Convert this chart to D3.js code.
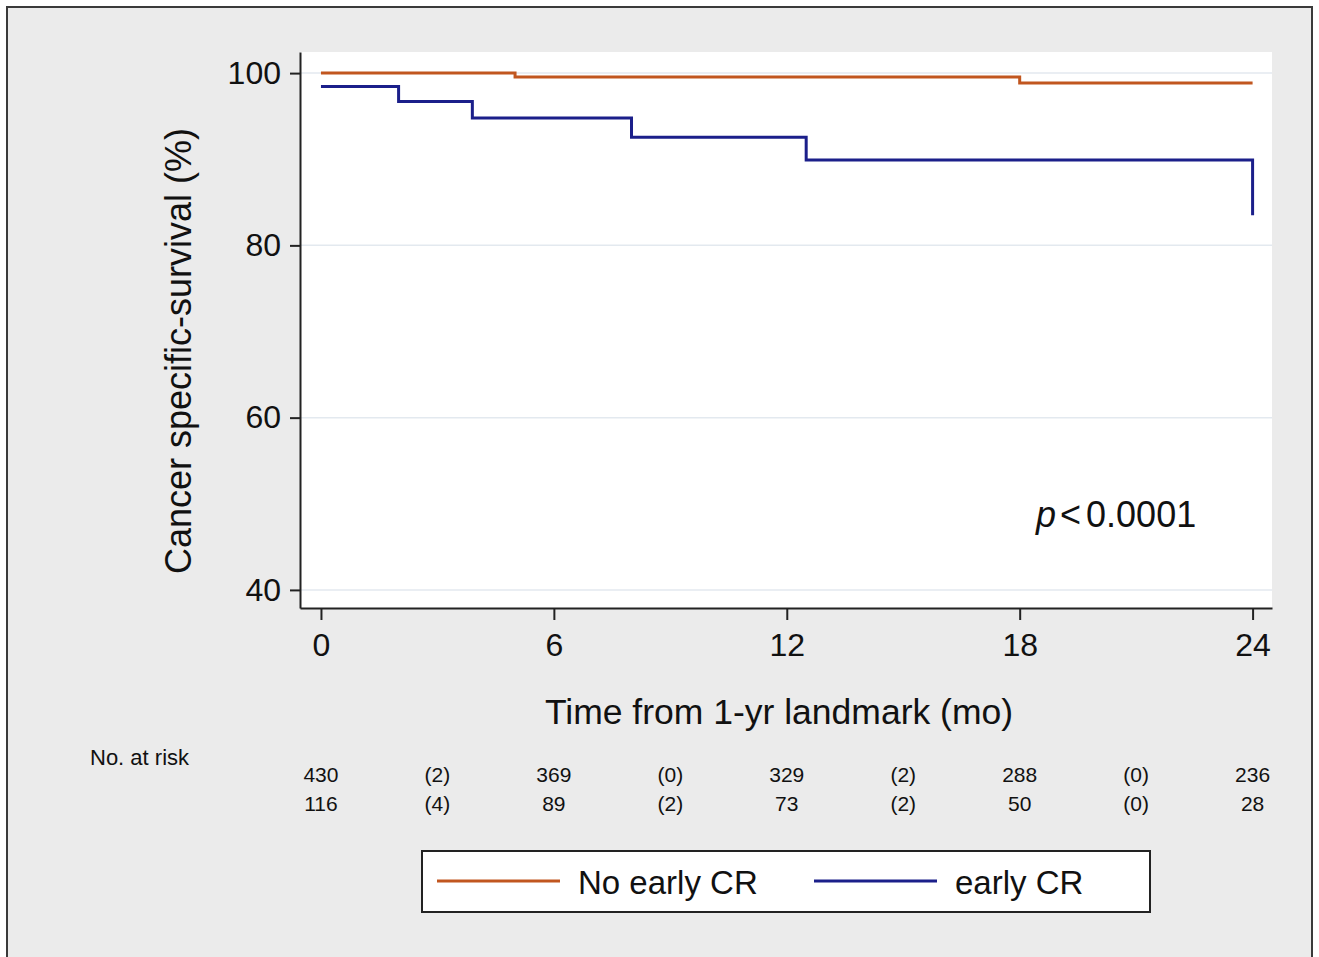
<!DOCTYPE html>
<html>
<head>
<meta charset="utf-8">
<script src="https://cdn.jsdelivr.net/npm/d3@7"></script>
<style>
  body { margin: 0; background: #fff; }
  svg { display: block; font-family: "Liberation Sans", Arial, Helvetica, sans-serif; }
</style>
</head>
<body>
<div id="chart"></div>
<script>
// survival curves (months, percent)
const noEarlyTimes = [0, 5, 18, 24];
const noEarlySurv  = [100, 99.55, 98.85, 98.85];
const earlyTimes   = [0, 2, 3.9, 8, 12.5, 24, 24];
const earlySurv    = [98.45, 96.7, 94.8, 92.55, 89.9, 89.9, 83.5];

const yTicks = [40, 60, 80, 100];
const xTicks = [0, 6, 12, 18, 24];

// number at risk table
const riskMonths  = [0, 3, 6, 9, 12, 15, 18, 21, 24];
const riskNoEarly = ["430", "(2)", "369", "(0)", "329", "(2)", "288", "(0)", "236"];
const riskEarly   = ["116", "(4)", "89", "(2)", "73", "(2)", "50", "(0)", "28"];

const seriesNames  = ["No early CR", "early CR"];
const seriesColors = ["#c1561f", "#1b1f8a"];

function drawChart(){
    var width = 1319, height = 957;
    var svg = d3.select("#chart").append("svg").attr("width", width).attr("height", height);

    // outer frame
    svg.append("rect").attr("x", 7).attr("y", 7).attr("width", 1305).attr("height", 960)
        .attr("fill", "#ebebeb").attr("stroke", "#3a3a3a").attr("stroke-width", 2);

    var left = 300, right = 1272, top = 52, bottom = 608;
    svg.append("rect").attr("x", left).attr("y", top).attr("width", right - left).attr("height", bottom - top)
        .attr("fill", "#fff");

    var x = d3.scaleLinear().domain([-0.54, 24.5]).range([left, right]);
    var y = d3.scaleLinear().domain([37.9, 102.45]).range([bottom, top]);

//gridlines
    svg.append("g").selectAll("line").data(yTicks).enter().append("line")
        .attr("x1", left).attr("x2", right)
        .attr("y1", d => y(d)).attr("y2", d => y(d))
        .attr("stroke", "#e3e9ef").attr("stroke-width", 1.5);

//axes
    var yAxis = svg.append("g").attr("transform", "translate(" + left + ",0)")
        .call(d3.axisLeft(y).tickValues(yTicks).tickSize(10).tickSizeOuter(0).tickPadding(9));
    var xAxis = svg.append("g").attr("transform", "translate(0," + bottom + ")")
        .call(d3.axisBottom(x).tickValues(xTicks).tickSize(12).tickSizeOuter(0).tickPadding(13));
    [yAxis, xAxis].forEach(function(a){
        a.selectAll("path, line").attr("stroke", "#222").attr("stroke-width", 2);
        a.selectAll("text").attr("fill", "#111").style("font-size", "32px")
            .style("font-family", "'Liberation Sans', Arial, sans-serif");
    });

    svg.append("text").attr("transform", "translate(191,351) rotate(-90)")
        .attr("text-anchor", "middle").attr("fill", "#111").style("font-size", "36px")
        .text("Cancer specific-survival (%)");
    svg.append("text").attr("x", 779).attr("y", 724)
        .attr("text-anchor", "middle").attr("fill", "#111").style("font-size", "35.5px")
        .text("Time from 1-yr landmark (mo)");

//curves
    var line = d3.line().x(d => x(d[0])).y(d => y(d[1])).curve(d3.curveStepAfter);
    var curves = [
        d3.zip(noEarlyTimes, noEarlySurv),
        d3.zip(earlyTimes, earlySurv)
    ];
    svg.append("g").selectAll("path").data(curves).enter().append("path")
        .attr("d", line).attr("fill", "none")
        .attr("stroke", (d, i) => seriesColors[i]).attr("stroke-width", 3);

//p value
    var p = svg.append("text").attr("x", 1036).attr("y", 527).attr("fill", "#111").style("font-size", "36px");
    p.append("tspan").style("font-style", "italic").text("p");
    p.append("tspan").attr("dx", 4).text("<");
    p.append("tspan").attr("dx", 5).text("0.0001");

//risk table
    svg.append("text").attr("x", 90).attr("y", 765).attr("fill", "#111").style("font-size", "22px")
        .text("No. at risk");
    [riskNoEarly, riskEarly].forEach(function(row, r){
        svg.append("g").selectAll("text").data(row).enter().append("text")
            .attr("x", (d, i) => x(riskMonths[i]))
            .attr("y", 782 + r * 29)
            .attr("text-anchor", "middle").attr("fill", "#111").style("font-size", "21px")
            .text(d => d);
    });

//legend
    svg.append("rect").attr("x", 422).attr("y", 851).attr("width", 728).attr("height", 61)
        .attr("fill", "#fff").attr("stroke", "#222").attr("stroke-width", 2);
    var legX = [437, 814];
    seriesNames.forEach(function(name, i){
        svg.append("line").attr("x1", legX[i]).attr("x2", legX[i] + 123)
            .attr("y1", 881).attr("y2", 881)
            .attr("stroke", seriesColors[i]).attr("stroke-width", 3);
        svg.append("text").attr("x", legX[i] + 141).attr("y", 894)
            .attr("fill", "#111").style("font-size", "33px").text(name);
    });
}

drawChart();
</script>
</body>
</html>
